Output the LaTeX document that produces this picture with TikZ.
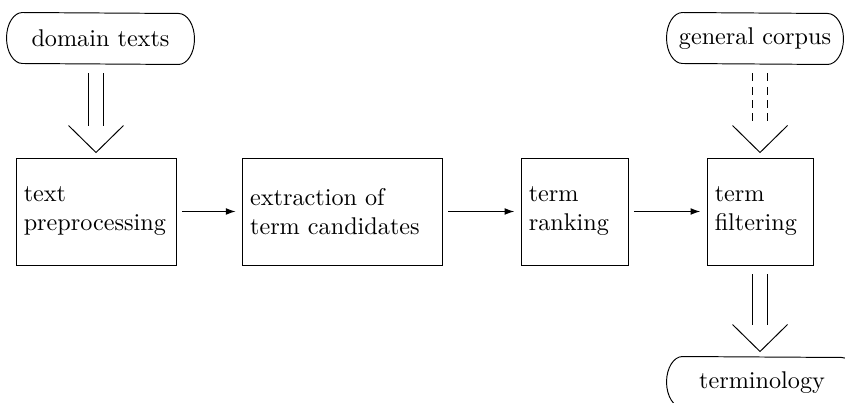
\documentclass[tikz,border=0pt]{standalone}
\usetikzlibrary{calc,arrows.meta}
\newcommand\pillbox[1]{%
  \draw ($(#1.north west)+(16,0)$) arc[start angle=90,end angle=270,x radius=6.61pt,y radius=10.535pt]
    -- ($(#1.south east)+(-16,0)$) arc[start angle=-90,end angle=90,x radius=6.61pt,y radius=10.535pt]
    -- cycle;}
\begin{document}
\begin{tikzpicture}[x=0.4132pt, y=-0.4132pt, line width=0.4pt,
  src/.style={rectangle, minimum height=21.07pt, inner xsep=2pt},
  stepbox/.style={draw, rectangle, align=left, minimum height=44.21pt, inner xsep=3.2pt},
  flow/.style={-{Latex[length=4pt,width=2.8pt]}, shorten <=2.2pt, shorten >=2.6pt},
  dashline/.style={dash pattern=on 3.3pt off 2.2pt}]
\useasboundingbox (0,0) rectangle (845,403);

\node[src, minimum width=77.27pt] (dom) at (100.5,38.5) {domain texts};
\node[src, minimum width=72.72pt] (gc) at (755,38.5) {general corpus};
\node[src, minimum width=78.5pt] (term) at (762,382.5) {terminology};
\pillbox{dom}
\pillbox{gc}
\pillbox{term}

\node[stepbox, text width=59.7pt] (b1) at (96,211.5) {text\\preprocessing};
\node[stepbox, text width=76.2pt] (b2) at (342.3,211.5) {extraction of\\term candidates};
\node[stepbox, text width=37.8pt] (b3) at (574.5,211.5) {term\\ranking};
\node[stepbox, text width=37.4pt] (b4) at (760,211.5) {term\\filtering};

\draw[flow] (b1) -- (b2);
\draw[flow] (b2) -- (b3);
\draw[flow] (b3) -- (b4);

% domain texts => text preprocessing
\draw ($(b1.north |- dom.south)+(-7.5,9)$) -- ($(b1.north)+(-7.5,-32)$);
\draw ($(b1.north |- dom.south)+(7.5,9)$) -- ($(b1.north)+(7.5,-32)$);
\draw ($(b1.north)+(-27.5,-32)$) -- ($(b1.north)+(0,-5)$) -- ($(b1.north)+(27.5,-32)$);

% general corpus => term filtering (dashed)
\draw[dashline] ($(b4.north |- gc.south)+(-7.5,9)$) -- ($(b4.north)+(-7.5,-32)$);
\draw[dashline] ($(b4.north |- gc.south)+(7.5,9)$) -- ($(b4.north)+(7.5,-32)$);
\draw ($(b4.north)+(-27.5,-32)$) -- ($(b4.north)+(0,-5)$) -- ($(b4.north)+(27.5,-32)$);

% term filtering => terminology
\draw ($(b4.south)+(-7.5,9)$) -- ($(b4.south |- term.north)+(-7.5,-32)$);
\draw ($(b4.south)+(7.5,9)$) -- ($(b4.south |- term.north)+(7.5,-32)$);
\draw ($(b4.south |- term.north)+(-27.5,-32)$) -- ($(b4.south |- term.north)+(0,-5)$) -- ($(b4.south |- term.north)+(27.5,-32)$);
\end{tikzpicture}
\end{document}
